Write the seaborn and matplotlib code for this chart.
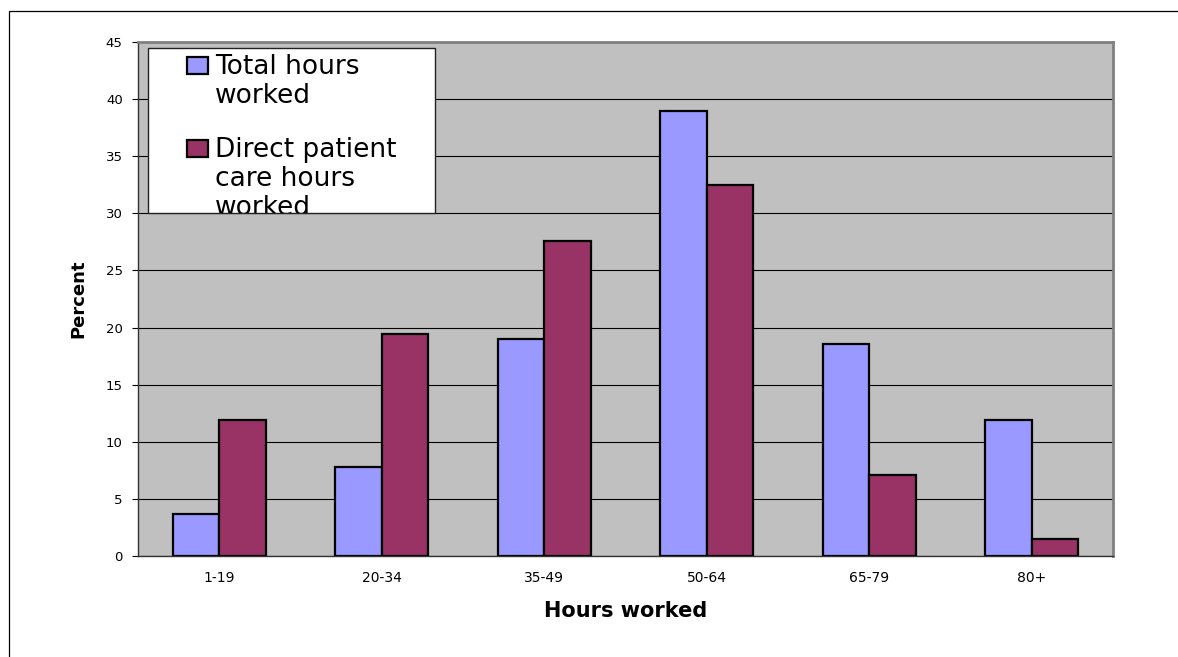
import numpy as np
import pandas as pd
import matplotlib
matplotlib.use("Agg")
import matplotlib.pyplot as plt
from matplotlib.patches import Rectangle
from matplotlib.transforms import Bbox, TransformedBbox
import seaborn as sns

# Distribution of weekly hours worked
hour_bins = ["1-19", "20-34", "35-49", "50-64", "65-79", "80+"]
total_hours = [3.7, 7.8, 19.0, 39.0, 18.6, 11.9]
direct_care_hours = [11.9, 19.4, 27.6, 32.5, 7.1, 1.5]
series_names = ["Total hours\nworked", "Direct patient\ncare hours\nworked"]
series_colors = ["#9999FF", "#993366"]
y_ticks = [0, 5, 10, 15, 20, 25, 30, 35, 40, 45]

df = pd.DataFrame({
    "hours": hour_bins * 2,
    "percent": total_hours + direct_care_hours,
    "series": [series_names[0]] * len(hour_bins) + [series_names[1]] * len(hour_bins),
})

sns.set_style("white")
plt.rcParams["font.family"] = ["DejaVu Sans"]
plt.rcParams.update({
    "text.color": "black",
    "axes.labelcolor": "black",
    "xtick.color": "black",
    "ytick.color": "black",
})

W, H = 1178, 657
fig = plt.figure(figsize=(W / 100, H / 100), dpi=100)
fig.patch.set_facecolor("white")

# plot area in pixel coordinates
L, R, T, B = 138, 1113, 42, 556
ax = fig.add_axes([L / W, 1 - B / H, (R - L) / W, (B - T) / H])
ax.set_facecolor("#C0C0C0")
ax.set_axisbelow(True)

sns.barplot(
    data=df, x="hours", y="percent", hue="series", order=hour_bins,
    hue_order=series_names, palette=series_colors, saturation=1,
    width=0.572, edgecolor="black", linewidth=1.6, legend=False, ax=ax,
)

ax.set_xlim(-0.5, len(hour_bins) - 0.5)
ax.set_ylim(0, 45)
ax.set_yticks(y_ticks)
ax.set_yticklabels([str(v) for v in y_ticks], fontsize=9.5)
ax.yaxis.grid(True, color="black", linewidth=0.8)
ax.xaxis.grid(False)

ax.set_xticks(range(len(hour_bins)))
ax.set_xticklabels(hour_bins, fontsize=10)
ax.set_xticks(np.arange(-0.5, len(hour_bins), 1), minor=True)
ax.tick_params(axis="x", which="major", length=0, pad=11)
ax.tick_params(axis="x", which="minor", length=4, width=0.8, color="black", direction="out")
ax.tick_params(axis="y", which="major", length=4, width=0.8, color="black", direction="out", pad=7, left=True)

for side in ("top", "right"):
    ax.spines[side].set_color("#808080")
    ax.spines[side].set_linewidth(2)
for side in ("left", "bottom"):
    ax.spines[side].set_color("#333333")
    ax.spines[side].set_linewidth(1)

ax.set_xlabel("Hours worked", fontsize=15, fontweight="bold")
ax.set_ylabel("Percent", fontsize=13, fontweight="bold")
ax.xaxis.set_label_coords(0.5, (B - 601) / (B - T))
ax.yaxis.set_label_coords((87 - L) / (R - L), 0.5)


def axx(px):
    return (px - L) / (R - L)


def axy(py):
    return (B - py) / (B - T)


# legend box with fixed size; long entries are cut off by its border
bx0, bx1, by0, by1 = axx(148), axx(435), axy(213), axy(48)
box = Rectangle((bx0, by0), bx1 - bx0, by1 - by0,
                transform=ax.transAxes, facecolor="white", edgecolor="#222222",
                linewidth=1.0, zorder=10)
ax.add_patch(box)
box_clip = TransformedBbox(Bbox([[bx0, by0], [bx1, by1]]), ax.transAxes)

entry_baselines = [74, 157]
for name, color, base in zip(series_names, series_colors, entry_baselines):
    ax.add_patch(Rectangle((axx(187), axy(base)), axx(208) - axx(187), axy(base - 17) - axy(base),
                           transform=ax.transAxes, facecolor=color, edgecolor="black",
                           linewidth=1.6, zorder=11))
    t = ax.text(axx(215), axy(base - 20), name, transform=ax.transAxes, fontsize=19,
                ha="left", va="top", linespacing=1.15, zorder=12, color="black")
    t.set_clip_box(box_clip)
    t.set_clip_on(True)

# outer chart border
fig.patches.append(Rectangle((9 / W, -0.05), 1.1, (1 - 11 / H) + 0.05,
                             transform=fig.transFigure, fill=False,
                             edgecolor="black", linewidth=0.9, figure=fig))

fig.savefig("out.png", dpi=100, facecolor="white")
